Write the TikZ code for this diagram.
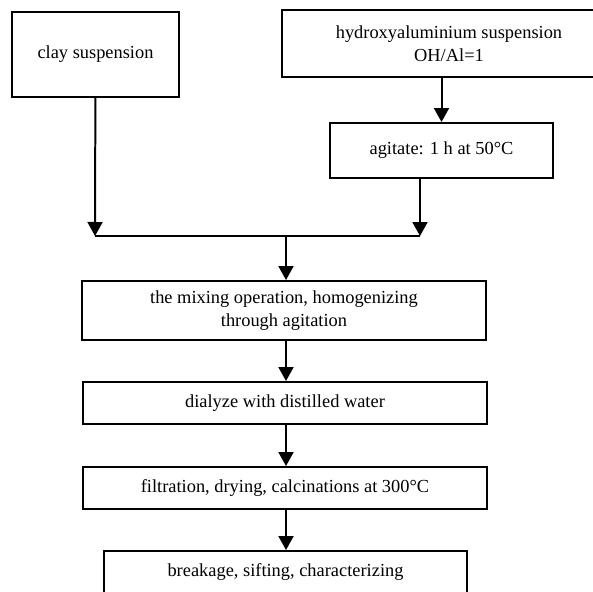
\documentclass[tikz,border=0pt]{standalone}
\usepackage{fontspec}
\setmainfont{Liberation Serif}
\usetikzlibrary{arrows.meta}

\begin{document}
\begin{tikzpicture}[x=0.03cm, y=-0.03cm, >={Triangle[width=0.45cm,length=0.42cm]}, line width=1.7pt,
  box/.style={draw, align=center, inner sep=0pt, font=\fontsize{15.7}{19.6}\selectfont}]
\useasboundingbox (0,0) rectangle (593,591);

\node[box, minimum width=5.01cm, minimum height=2.55cm] (clay) at (95.5,54.5) {clay suspension};
\node[box, line width=1.2pt, minimum width=10.02cm, minimum height=2.01cm] (hyd) at (449,43.5) {hydroxyaluminium suspension\\OH/Al=1};
\node[box, minimum width=6.69cm, minimum height=1.65cm] (agit) at (441.5,150.5) {agitate: 1 h at 50°C};
\node[box, minimum width=12.12cm, minimum height=1.77cm] (mix) at (284,310.5) {the mixing operation, homogenizing\\through agitation};
\node[box, minimum width=12.12cm, minimum height=1.26cm] (dial) at (285,403) {dialyze with distilled water};
\node[box, minimum width=12.12cm, minimum height=1.26cm] (filt) at (285,488) {filtration, drying, calcinations at 300°C};
\node[box, minimum width=10.89cm, minimum height=1.26cm] (brk) at (285.5,572) {breakage, sifting, characterizing};

\coordinate (jl) at (95,236);
\coordinate (jr) at (420,236);
\coordinate (jm) at (286,236);

\draw[->] (hyd.south -| agit) -- (agit);
\draw[->] (clay) -- (jl);
\draw[->] (agit.south -| jr) -- (jr);
\draw (jl) -- (jr);
\draw[->] (jm) -- (jm |- mix.north);
\draw[->] (mix.south -| jm) -- (jm |- dial.north);
\draw[->] (dial.south -| jm) -- (jm |- filt.north);
\draw[->] (filt.south -| jm) -- (jm |- brk.north);
\end{tikzpicture}
\end{document}
